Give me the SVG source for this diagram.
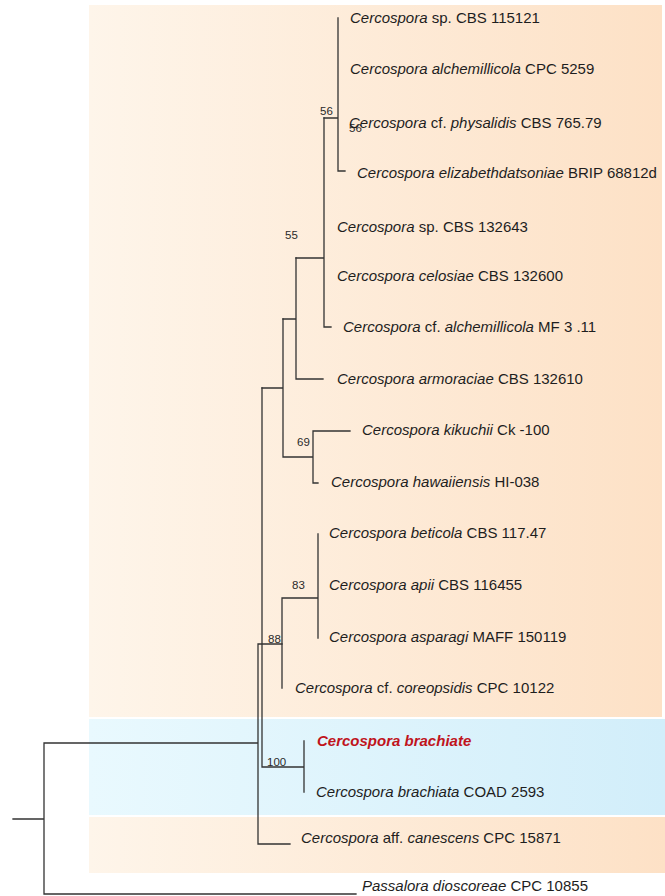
<svg xmlns="http://www.w3.org/2000/svg" width="665" height="896" viewBox="0 0 665 896">
<defs>
<linearGradient id="gOr" x1="0" y1="0" x2="1" y2="0">
<stop offset="0" stop-color="#fef5ea"/>
<stop offset="1" stop-color="#fde1c6"/>
</linearGradient>
<linearGradient id="gBl" x1="0" y1="0" x2="1" y2="0">
<stop offset="0" stop-color="#e9f9fe"/>
<stop offset="1" stop-color="#d2eefa"/>
</linearGradient>
<style>
.e{stroke:#333;stroke-width:1.3;fill:none;stroke-linecap:square}
.t{font-family:"Liberation Sans",Arial,sans-serif;font-size:15px;fill:#1e1e1e}
.i{font-style:italic}
.b{font-family:"Liberation Sans",Arial,sans-serif;font-size:11.5px;fill:#2a2a2a}
.r{font-family:"Liberation Sans",Arial,sans-serif;font-size:15px;fill:#c0141c;font-weight:bold;font-style:italic}
</style>
</defs>
<rect width="665" height="896" fill="#fff"/>
<g id="bands">
<rect x="89" y="5" width="573" height="712" fill="url(#gOr)"/>
<rect x="89" y="719" width="576" height="96" fill="url(#gBl)"/>
<rect x="89" y="817" width="576" height="56" fill="url(#gOr)"/>
</g>
<g id="connectors" class="e">
<path d="M13 819H44M44 743V894H356M44 743H258M258 644V844H290M258 644H282"/>
<path d="M262 388V767H304M304 741V792"/>
<path d="M282 598V688M282 598H318M318 534V638"/>
<path d="M262 388H283M283 319V457M283 457H313M313 431V483M313 431H350M313 483H318"/>
<path d="M283 319H296M296 258V379M296 379H323"/>
<path d="M296 258H324M324 118V327M324 327H331"/>
<path d="M324 118H338M338 18V171M338 171H345"/>
</g>
<g id="support">
<text class="b" x="320" y="115">56</text>
<text class="b" x="349" y="132">56</text>
<text class="b" x="285" y="239">55</text>
<text class="b" x="297" y="446">69</text>
<text class="b" x="292" y="589">83</text>
<text class="b" x="268" y="643">88</text>
<text class="b" x="267" y="766">100</text>
</g>
<g id="n1"><text class="t" x="350" y="23"><tspan class="i">Cercospora</tspan> sp. CBS 115121</text></g>
<g id="n2"><text class="t" x="350" y="74"><tspan class="i">Cercospora alchemillicola</tspan> CPC 5259</text></g>
<g id="n3"><text class="t" x="349" y="128"><tspan class="i">Cercospora</tspan> cf. <tspan class="i">physalidis</tspan> CBS 765.79</text></g>
<g id="n4"><text class="t" x="357" y="178"><tspan class="i">Cercospora elizabethdatsoniae</tspan> BRIP 68812d</text></g>
<g id="n5"><text class="t" x="337" y="232"><tspan class="i">Cercospora</tspan> sp. CBS 132643</text></g>
<g id="n6"><text class="t" x="337" y="281"><tspan class="i">Cercospora celosiae</tspan> CBS 132600</text></g>
<g id="n7"><text class="t" x="343" y="332"><tspan class="i">Cercospora</tspan> cf. <tspan class="i">alchemillicola</tspan> MF 3 .11</text></g>
<g id="n8"><text class="t" x="337" y="384"><tspan class="i">Cercospora armoraciae</tspan> CBS 132610</text></g>
<g id="n9"><text class="t" x="362" y="435"><tspan class="i">Cercospora kikuchii</tspan> Ck -100</text></g>
<g id="n10"><text class="t" x="331" y="487"><tspan class="i">Cercospora hawaiiensis</tspan> HI-038</text></g>
<g id="n11"><text class="t" x="329" y="538"><tspan class="i">Cercospora beticola</tspan> CBS 117.47</text></g>
<g id="n12"><text class="t" x="329" y="590"><tspan class="i">Cercospora apii</tspan> CBS 116455</text></g>
<g id="n13"><text class="t" x="329" y="642"><tspan class="i">Cercospora asparagi</tspan> MAFF 150119</text></g>
<g id="n14"><text class="t" x="295" y="693"><tspan class="i">Cercospora</tspan> cf. <tspan class="i">coreopsidis</tspan> CPC 10122</text></g>
<g id="n15"><text class="r" x="317" y="746">Cercospora brachiate</text></g>
<g id="n16"><text class="t" x="316" y="797"><tspan class="i">Cercospora brachiata</tspan> COAD 2593</text></g>
<g id="n17"><text class="t" x="301" y="843"><tspan class="i">Cercospora</tspan> aff. <tspan class="i">canescens</tspan> CPC 15871</text></g>
<g id="n18"><text class="t" x="362" y="891"><tspan class="i">Passalora dioscoreae</tspan> CPC 10855</text></g>
</svg>
